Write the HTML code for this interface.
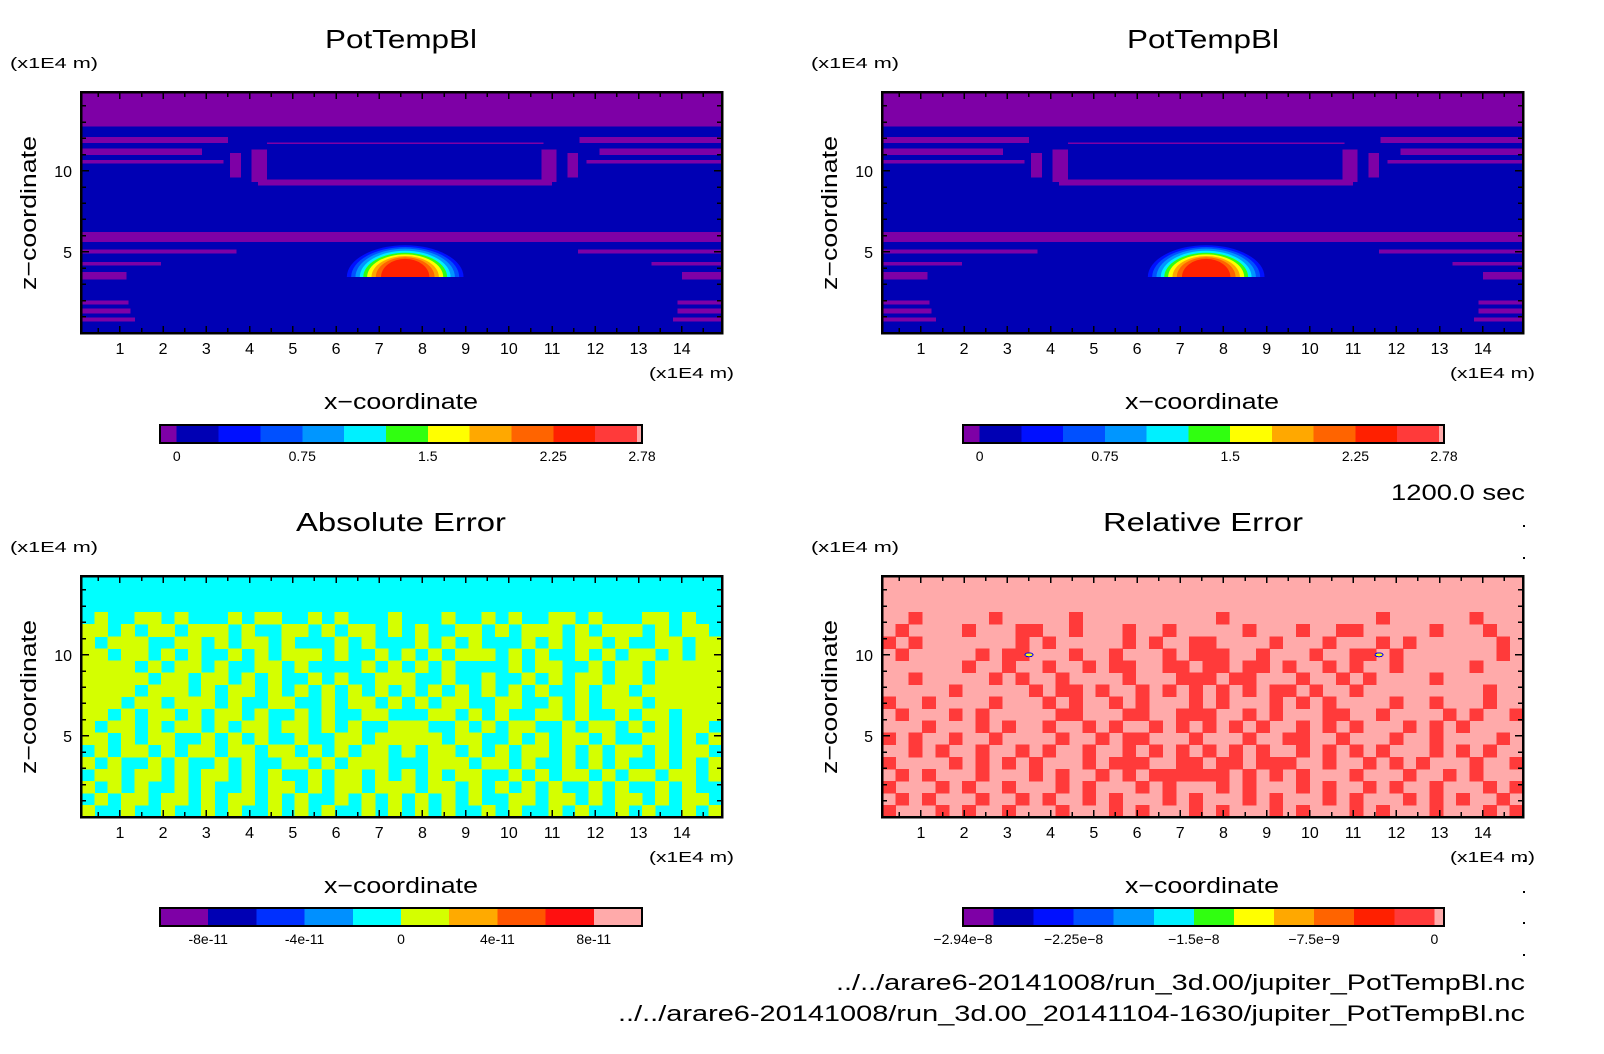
<!DOCTYPE html>
<html><head><meta charset="utf-8">
<style>
html,body{margin:0;padding:0;background:#fff;}
svg{display:block;font-family:"Liberation Sans",sans-serif;}
text{fill:#000;}
</style></head>
<body>
<svg id="fig" width="1604" height="1054" viewBox="0 0 1604 1054" xmlns="http://www.w3.org/2000/svg" shape-rendering="crispEdges">
<rect x="0" y="0" width="1604" height="1054" fill="#fff"/>
<text x="401" y="48" font-size="26" text-anchor="middle" textLength="152" lengthAdjust="spacingAndGlyphs">PotTempBl</text>
<text x="1203" y="48" font-size="26" text-anchor="middle" textLength="152" lengthAdjust="spacingAndGlyphs">PotTempBl</text>
<text x="401" y="531" font-size="26" text-anchor="middle" textLength="210" lengthAdjust="spacingAndGlyphs">Absolute Error</text>
<text x="1203" y="531" font-size="26" text-anchor="middle" textLength="200" lengthAdjust="spacingAndGlyphs">Relative Error</text>
<text x="1525" y="500" font-size="22" text-anchor="end" textLength="134" lengthAdjust="spacingAndGlyphs">1200.0 sec</text>
<text x="1525" y="990" font-size="22" text-anchor="end" textLength="689" lengthAdjust="spacingAndGlyphs">../../arare6-20141008/run_3d.00/jupiter_PotTempBl.nc</text>
<text x="1525" y="1021" font-size="22" text-anchor="end" textLength="907" lengthAdjust="spacingAndGlyphs">../../arare6-20141008/run_3d.00_20141104-1630/jupiter_PotTempBl.nc</text>
<g id="dots">
<rect x="1523" y="525" width="2" height="2" fill="#000"/><rect x="1523" y="557" width="2" height="2" fill="#000"/>
<rect x="1523" y="860" width="2" height="2" fill="#000"/><rect x="1523" y="891" width="2" height="2" fill="#000"/>
<rect x="1523" y="922" width="2" height="2" fill="#000"/><rect x="1523" y="954" width="2" height="2" fill="#000"/>
</g>
</svg>
<script>
// ---- data ----
const xDomain = [0.1, 14.93];
const zDomain = [0, 14.86];
const xTickLabels = [1,2,3,4,5,6,7,8,9,10,11,12,13,14];
const zTickLabels = [5,10];

const topLevels = [-0.1,0,0.25,0.5,0.75,1.0,1.25,1.5,1.75,2.0,2.25,2.5,2.75,2.78];
const topColors = ['#7e00a6','#0000b4','#0010ff','#0050ff','#0096ff','#00f0ff','#30ff10','#ffff00','#ffa800','#ff6400','#ff2000','#ff3a3a','#ffaaaa'];
const topCbLabels = [0,0.75,1.5,2.25,2.78];
const topCbText = ['0','0.75','1.5','2.25','2.78'];

const absLevels = [-1e-10,-8e-11,-6e-11,-4e-11,-2e-11,0,2e-11,4e-11,6e-11,8e-11,1e-10];
const absColors = ['#7e00a6','#0000b4','#0030ff','#0090ff','#00ffff','#d4ff00','#ffaa00','#ff5500','#ff1010','#ffaaaa'];
const absCbLabels = [-8e-11,-4e-11,0,4e-11,8e-11];
const absCbText = ['-8e-11','-4e-11','0','4e-11','8e-11'];

const relLevels = [-2.94e-8,-2.75e-8,-2.5e-8,-2.25e-8,-2e-8,-1.75e-8,-1.5e-8,-1.25e-8,-1e-8,-7.5e-9,-5e-9,-2.5e-9,0,0.06e-8];
const relColors = ['#7e00a6','#0000b4','#0010ff','#0050ff','#0096ff','#00f0ff','#30ff10','#ffff00','#ffa800','#ff6400','#ff2000','#ff3a3a','#ffaaaa'];
const relCbLabels = [-2.94e-8,-2.25e-8,-1.5e-8,-7.5e-9,0];
const relCbText = ['\u22122.94e\u22128','\u22122.25e\u22128','\u22121.5e\u22128','\u22127.5e\u22129','0'];

// PotTempBl field features (data units)
const fullBands = [[12.72,14.86],[5.6,6.23]];
const sideBands = [[11.73,12.1,3.5,11.63],[10.97,11.38,2.9,12.1],[10.45,10.66,3.4,11.8],
                   [4.9,5.16,3.7,11.6],[4.17,4.38,1.95,13.3],[3.3,3.77,1.15,14.0],
                   [1.75,2.0,1.2,13.9],[1.2,1.5,1.25,13.9],[0.7,0.95,1.35,13.8]];
const ringBars = [[4.2,11.0,9.1,9.45],[4.4,10.8,11.64,11.76],[3.55,3.8,9.6,11.1],[4.05,4.4,9.3,11.3],
                  [10.75,11.1,9.3,11.3],[11.35,11.6,9.6,11.1]];
const blobCenter = [7.6,3.45];
const blobRx = [1.35,1.25,1.15,1.05,0.97,0.88,0.78,0.68,0.56];
const blobRz = [1.96,1.85,1.75,1.62,1.5,1.4,1.3,1.22,1.12];
const blobLevelIdx = [2,3,4,5,6,7,8,9,10];

const absGrid = [
"................................................",
"................................................",
"................................................",
".#..##.#...#.##..#.#...#...#..#.#..##.#...##.#..",
"##.#.##.###.#..##.#.##.#.#..##.#.###.#.###.#.##.",
"#.###..##.#.##.#...#.#...#.#.#...#.#.##.#..##.##",
"##.##.#.#..#.#.###.#..#.#.#.###.#.#..#.#.##.#.##",
"####.#.##.#..##.#....#.#.#.#....#.##..#.##.#####",
"#####.##.##.#.#..#.#..###..#..#..#.#.##.##.#####",
"####.###.#.##.#.#.#.#.#.#.#.#.#.#.#..#.##.######",
"###.##.###.#..##..#.##.#.#.##..##..#.#.###.#####",
"##.#.##.#.##.#..#.#..##...##.#.#..##.#..#.##.###",
"#.##.#.##.#.##.##.#.#..###..#.#.##..#.##.#.#.##.",
"##.#.##..#.#.#..#..##.#####.##..#.#.##.#..##.#.#",
".#.##.#.##.##.##.#.#.##.#.##.#.#.##.#.#.##.#.##.",
"#.#..#.#..#.#..##.#.###...###.##.#..#.#.#..#.#.#",
".##.##.#.##.#.#..#.##.#.#.#.##..#.#.##.#.##.##.#",
"#.#.#..#.#..#.##.#.##.###.##.#.#.#.#..#.#..#.#..",
".#.##.##.#.##.#.#..#.#.#.#.#.#..##.##.#.##.#.##.",
"#..#..#..#.#..#.#.#..#.#.#.#..#.#..#.#..#.#..#.#"];
const relGrid = [
"................................................",
"................................................",
"................................................",
"..#.....#.....#..........#...........#......#...",
".#....#...##..#...#..#.....#...#..##.....#...#..",
"#.#.......#.#.....#.#..##....#...#...#.#......#.",
".#.....#.##...#..#...#.###..#...#..##.#.......#.",
"......#..#..#..#.##..##.##.##.#..#.#..#.....#...",
"..#.....#.#..#....#...###.##...#..#.#....#......",
".....#.....#.##.#..#.#.#.#.#.##.#..#.........#..",
"#..#....#...#.#..#.#...#.#...#.#.#....#..#...#..",
".#...#.#.....##...##..###..#.#...##..#....#.#..#",
"...#...#.#..#..#.#..#.#.#.#.#..#.#.#...#.#.#....",
"#.#..#..#....#..#.##...#...#..##..#...#..#....#.",
"..#.#..#..#.#..#..#.#.#.#.#.#..#.#.#.#...#.#.#..",
"#....#.#.#.#...#.###..##.##.###..#..#.#.#...#..#",
".#.#...#...#.#..#.#.######.#.#.#...#...#..#.#...",
"#...#.#..#...#.#...#.#...#.#...#.#..#.#..#...#.#",
".#.#...#..#.#..#.#...#.#...#.#...#.#...#.#.#..#.",
"#...#.#..#...#...#.#...#.#...#.#...#.#...#...#.#"];
const relMarkers = [[3.5,10.0],[11.6,10.0]];

// ---- drawing ----
const NS = 'http://www.w3.org/2000/svg';
const svg = document.getElementById('fig');
function mk(tag, attrs, parent){
  const e = document.createElementNS(NS, tag);
  for (const k in attrs) e.setAttribute(k, attrs[k]);
  (parent || svg).appendChild(e);
  return e;
}
const W = 641, H = 241;
const panels = [
  {L:81, T:92, key:'top-left'}, {L:882, T:92, key:'top-right'},
  {L:81, T:576, key:'bottom-left'}, {L:882, T:576, key:'bottom-right'}];
function sx(p, v){ return p.L + (v - xDomain[0]) / (xDomain[1] - xDomain[0]) * W; }
function sz(p, v){ return p.T + H - (v - zDomain[0]) / (zDomain[1] - zDomain[0]) * H; }

function drawPotTemp(p, g){
  const bg = mk('rect', {x:p.L, y:p.T, width:W, height:H, fill:topColors[1]}, g);
  
  
  fullBands.forEach(b => {
    const r = mk('rect', {x:p.L, y:sz(p,b[1]), width:W, height:sz(p,b[0])-sz(p,b[1]), fill:topColors[0]}, g);
    
    
  });
  sideBands.forEach(b => {
    const y = sz(p,b[1]), h = sz(p,b[0]) - sz(p,b[1]);
    const r1 = mk('rect', {x:p.L, y:y, width:sx(p,b[2])-p.L, height:h, fill:topColors[0]}, g);
    
    
    const r2 = mk('rect', {x:sx(p,b[3]), y:y, width:p.L+W-sx(p,b[3]), height:h, fill:topColors[0]}, g);
    
    
  });
  ringBars.forEach(b => {
    const r = mk('rect', {x:sx(p,b[0]), y:sz(p,b[3]), width:sx(p,b[1])-sx(p,b[0]), height:sz(p,b[2])-sz(p,b[3]), fill:topColors[0]}, g);
    
    
  });
  blobRx.forEach((rx, i) => {
    const cx = sx(p, blobCenter[0]), cy = sz(p, blobCenter[1]);
    const ax = sx(p, blobCenter[0] + rx) - cx, az = cy - sz(p, blobCenter[1] + blobRz[i]);
    const d = `M${cx-ax},${cy} A${ax},${az} 0 0 1 ${cx+ax},${cy} Z`;
    const path = mk('path', {d:d, fill:topColors[blobLevelIdx[i]], 'shape-rendering':'auto'}, g);
    
    
  });
}

function drawGrid(p, g, grid, bgColor, fgColor, name){
  const bg = mk('rect', {x:p.L, y:p.T, width:W, height:H, fill:bgColor}, g);
  
  
  const cols = 48, rows = grid.length;
  const cw = W / cols, ch = H / rows;
  grid.forEach((row, r) => {
    let c = 0;
    while (c < cols){
      if (row[c] === '#'){
        let e = c;
        while (e < cols && row[e] === '#') e++;
        const rc = mk('rect', {x:p.L + c*cw, y:p.T + r*ch, width:(e-c)*cw + 0.5, height:ch + 0.5, fill:fgColor}, g);
        
        
        c = e;
      } else c++;
    }
  });
}

function drawAxes(p, g){
  const frame = mk('rect', {x:p.L, y:p.T, width:W, height:H, fill:'none', stroke:'#000', 'stroke-width':2.5}, g);
  
  
  for (let v = 0.5; v <= 14.9; v += 0.5){
    const x = sx(p, v), len = (Math.abs(v - Math.round(v)) < 1e-6) ? 7 : 5;
    const t1 = mk('line', {x1:x, x2:x, y1:p.T+H, y2:p.T+H-len, stroke:'#000', 'stroke-width':1.5}, g);
    
    
    const t2 = mk('line', {x1:x, x2:x, y1:p.T, y2:p.T+len, stroke:'#000', 'stroke-width':1.5}, g);
    
    
  }
  for (let v = 1; v <= 14; v += 1){
    const y = sz(p, v), len = (v % 5 === 0) ? 8 : 5;
    const t1 = mk('line', {x1:p.L, x2:p.L+len, y1:y, y2:y, stroke:'#000', 'stroke-width':1.5}, g);
    
    
    const t2 = mk('line', {x1:p.L+W, x2:p.L+W-len, y1:y, y2:y, stroke:'#000', 'stroke-width':1.5}, g);
    
    
  }
  xTickLabels.forEach(v => {
    const t = mk('text', {x:sx(p,v), y:p.T+H+21, 'font-size':16, 'text-anchor':'middle'}, g);
    t.textContent = String(v);
    
    
  });
  zTickLabels.forEach(v => {
    const t = mk('text', {x:p.L-9, y:sz(p,v)+6, 'font-size':16, 'text-anchor':'end'}, g);
    t.textContent = String(v);
    
    
  });
  const u1 = mk('text', {x:p.L-71, y:p.T-24, 'font-size':15, textLength:88, lengthAdjust:'spacingAndGlyphs'}, g);
  u1.textContent = '(x1E4 m)';
  
  
  const u2 = mk('text', {x:p.L+568, y:p.T+H+45, 'font-size':15, textLength:85, lengthAdjust:'spacingAndGlyphs'}, g);
  u2.textContent = '(x1E4 m)';
  
  
  const xl = mk('text', {x:p.L+320, y:p.T+H+76, 'font-size':22, 'text-anchor':'middle', textLength:154, lengthAdjust:'spacingAndGlyphs'}, g);
  xl.textContent = 'x\u2212coordinate';
  
  
  const cy = p.T + 121;
  const zl = mk('text', {x:0, y:0, 'font-size':22, 'text-anchor':'middle', textLength:154, lengthAdjust:'spacingAndGlyphs', transform:`translate(${p.L-45},${cy}) rotate(-90)`}, g);
  zl.textContent = 'z\u2212coordinate';
  
  
}

function drawColorbar(x0, x1, y0, levels, colors, labVals, labText, g){
  const lo = levels[0], hi = levels[levels.length-1];
  const px = v => x0 + (v - lo) / (hi - lo) * (x1 - x0);
  colors.forEach((c, i) => {
    const r = mk('rect', {x:px(levels[i]), y:y0, width:px(levels[i+1])-px(levels[i]), height:18, fill:c}, g);
    
    
  });
  const f = mk('rect', {x:x0, y:y0, width:x1-x0, height:18, fill:'none', stroke:'#000', 'stroke-width':2}, g);
  
  
  labVals.forEach((v, i) => {
    const t = mk('text', {x:px(v), y:y0+36, 'font-size':14, 'text-anchor':'middle'}, g);
    t.textContent = labText[i];
    
    
  });
}

panels.forEach((p, i) => {
  const g = mk('g', {});
  
  
  const clipId = 'clip' + i;
  const defs = mk('defs', {}, g);
  const cp = mk('clipPath', {id:clipId}, defs);
  mk('rect', {x:p.L, y:p.T, width:W, height:H}, cp);
  const fg = mk('g', {'clip-path':`url(#${clipId})`}, g);
  
  
  if (i < 2) drawPotTemp(p, fg);
  else if (i === 2) drawGrid(p, fg, absGrid, absColors[4], absColors[5], 'abs-error-patch');
  else {
    drawGrid(p, fg, relGrid, relColors[12], relColors[11], 'rel-error-patch');
    relMarkers.forEach(m => {
      const e = mk('ellipse', {cx:sx(p,m[0]), cy:sz(p,m[1]), rx:4, ry:2, fill:'#ffff00', stroke:'#0000ff', 'stroke-width':1}, fg);
      
      
    });
  }
  drawAxes(p, g);
});

const cbg = mk('g', {});


drawColorbar(160, 642, 425, topLevels, topColors, topCbLabels, topCbText, cbg);
drawColorbar(963, 1444, 425, topLevels, topColors, topCbLabels, topCbText, cbg);
drawColorbar(160, 642, 908, absLevels, absColors, absCbLabels, absCbText, cbg);
drawColorbar(963, 1444, 908, relLevels, relColors, relCbLabels, relCbText, cbg);
</script>
</body></html>
